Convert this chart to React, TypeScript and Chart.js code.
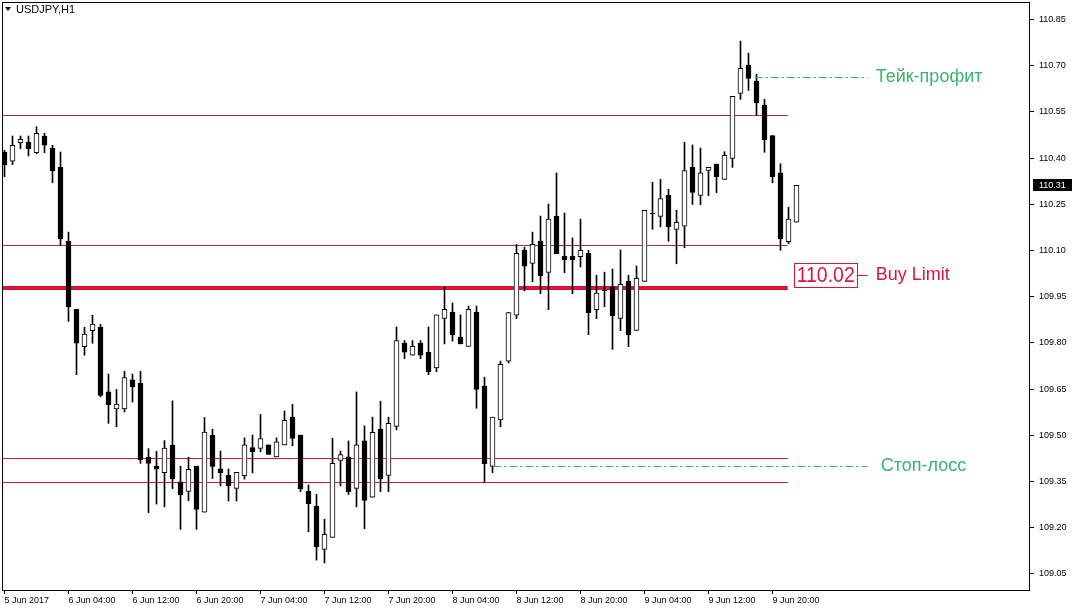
import React, { useEffect, useRef } from "react";
import { Chart, registerables } from "chart.js";

Chart.register(...registerables);

// ---- data (USDJPY, H1, from 5 Jun 2017 20:00) ----
const opens = [
  110.420, 110.390, 110.450, 110.452, 110.418, 110.472, 110.433, 110.370, 110.130, 109.909,
  109.788, 109.840, 109.851, 109.641, 109.586, 109.586, 109.680, 109.669, 109.429, 109.400,
  109.379, 109.468, 109.348, 109.318, 109.400, 109.251, 109.501, 109.391, 109.371, 109.328,
  109.369, 109.460, 109.458, 109.469, 109.430, 109.469, 109.559, 109.501, 109.319, 109.270,
  109.130, 109.169, 109.419, 109.430, 109.328, 109.482, 109.299, 109.520, 109.370, 109.529,
  109.800, 109.760, 109.800, 109.770, 109.719, 109.880, 109.900, 109.819, 109.789, 109.900,
  109.660, 109.399, 109.550, 109.741, 109.890, 110.101, 110.058, 110.131, 110.029, 110.212,
  110.082, 110.082, 110.080, 110.091, 109.908, 109.972, 109.982, 109.880, 110.000, 109.841,
  110.000, 110.222, 110.211, 110.279, 110.169, 110.179, 110.370, 110.279, 110.360, 110.381,
  110.331, 110.399, 110.610, 110.702, 110.650, 110.572, 110.473, 110.352, 110.129, 110.192,
];
const highs = [
  110.426, 110.472, 110.472, 110.472, 110.502, 110.481, 110.442, 110.420, 110.160, 109.909,
  109.851, 109.890, 109.861, 109.699, 109.649, 109.708, 109.699, 109.708, 109.457, 109.448,
  109.483, 109.612, 109.400, 109.429, 109.400, 109.558, 109.520, 109.449, 109.391, 109.380,
  109.492, 109.501, 109.568, 109.469, 109.492, 109.579, 109.601, 109.501, 109.339, 109.309,
  109.228, 109.491, 109.449, 109.482, 109.641, 109.531, 109.559, 109.611, 109.559, 109.852,
  109.808, 109.808, 109.808, 109.852, 109.891, 109.982, 109.930, 109.891, 109.920, 109.920,
  109.689, 109.559, 109.741, 109.899, 110.120, 110.111, 110.160, 110.212, 110.251, 110.352,
  110.222, 110.141, 110.202, 110.101, 110.020, 110.030, 110.040, 110.102, 110.020, 110.050,
  110.231, 110.322, 110.331, 110.299, 110.231, 110.452, 110.443, 110.433, 110.370, 110.381,
  110.421, 110.601, 110.780, 110.741, 110.673, 110.591, 110.473, 110.382, 110.241, 110.312,
];
const lows = [
  110.340, 110.379, 110.431, 110.407, 110.415, 110.418, 110.320, 110.117, 109.870, 109.697,
  109.760, 109.799, 109.625, 109.539, 109.528, 109.576, 109.608, 109.409, 109.249, 109.277,
  109.268, 109.327, 109.195, 109.288, 109.195, 109.251, 109.360, 109.336, 109.287, 109.287,
  109.358, 109.378, 109.447, 109.438, 109.430, 109.469, 109.466, 109.317, 109.187, 109.095,
  109.086, 109.169, 109.336, 109.308, 109.268, 109.197, 109.299, 109.317, 109.317, 109.518,
  109.749, 109.760, 109.749, 109.697, 109.707, 109.797, 109.806, 109.797, 109.789, 109.588,
  109.347, 109.379, 109.528, 109.735, 109.879, 109.969, 109.999, 109.960, 109.908, 110.090,
  110.028, 109.960, 110.047, 109.827, 109.879, 109.918, 109.779, 109.840, 109.788, 109.841,
  110.000, 110.169, 110.177, 110.130, 110.057, 110.109, 110.250, 110.249, 110.278, 110.288,
  110.331, 110.370, 110.591, 110.620, 110.539, 110.419, 110.320, 110.101, 110.122, 110.192,
];
const closes = [
  110.379, 110.442, 110.461, 110.431, 110.481, 110.442, 110.359, 110.138, 109.918, 109.799,
  109.829, 109.861, 109.630, 109.599, 109.602, 109.688, 109.658, 109.420, 109.409, 109.390,
  109.459, 109.359, 109.307, 109.390, 109.260, 109.511, 109.399, 109.379, 109.336, 109.380,
  109.469, 109.447, 109.490, 109.438, 109.479, 109.549, 109.490, 109.326, 109.278, 109.138,
  109.179, 109.409, 109.438, 109.317, 109.469, 109.289, 109.510, 109.359, 109.539, 109.808,
  109.770, 109.789, 109.760, 109.707, 109.891, 109.909, 109.827, 109.797, 109.909, 109.649,
  109.408, 109.559, 109.731, 109.899, 110.091, 110.049, 110.120, 110.018, 110.202, 110.090,
  110.070, 110.070, 110.101, 109.898, 109.962, 109.970, 109.888, 109.990, 109.827, 110.010,
  110.231, 110.220, 110.269, 110.177, 110.192, 110.360, 110.289, 110.352, 110.370, 110.340,
  110.409, 110.601, 110.692, 110.659, 110.580, 110.460, 110.340, 110.138, 110.202, 110.312,
];

const xTickIndices = [0, 8, 16, 24, 32, 40, 48, 56, 64, 72, 80, 88, 96];
const xTickLabels = [
  "5 Jun 2017", "6 Jun 04:00", "6 Jun 12:00", "6 Jun 20:00", "7 Jun 04:00", "7 Jun 12:00",
  "7 Jun 20:00", "8 Jun 04:00", "8 Jun 12:00", "8 Jun 20:00", "9 Jun 04:00", "9 Jun 12:00", "9 Jun 20:00",
];
const yTicks = [110.85, 110.7, 110.55, 110.4, 110.25, 110.1, 109.95, 109.8, 109.65, 109.5, 109.35, 109.2, 109.05];

const darkLevels = [110.54, 110.118];
const redLevels = [109.426, 109.348];
const buyLimitLine = 109.98;
const buyLimitPrice = 110.02;
const takeProfit = 110.662;
const stopLoss = 109.402;

const symbolTitle = "USDJPY,H1";
const buyLimitText = "Buy Limit";
const takeProfitText = "Тейк-профит";
const stopLossText = "Стоп-лосс";

// axis ranges / anchors (in data units)
const xMin = -0.3125;
const xMax = xMin + 128.5;
const yMin = 108.998;
const yMax = 110.907;
const levelsEnd = 97.9;
const tpStart = 93.8;
const slStart = 61.1;
const annoEnd = 107.9;

const CRIMSON = "#DC143C";
const DARKRED = "#9A3040";
const GREEN = "#3CB371";

const overlay = {
  id: "overlay",
  beforeDatasetsDraw(chart: any) {
    const { ctx, chartArea: a, scales } = chart;
    const x = scales.x, y = scales.y;
    ctx.save();
    ctx.beginPath();
    ctx.rect(a.left, a.top, a.right - a.left, a.bottom - a.top);
    ctx.clip();
    const xEnd = x.getPixelForValue(levelsEnd);
    const hline = (v: number, color: string, w: number) => {
      const raw = y.getPixelForValue(v);
      const py = w % 2 === 1 ? Math.round(raw) + 0.5 : Math.round(raw);
      ctx.strokeStyle = color;
      ctx.lineWidth = w;
      ctx.beginPath();
      ctx.moveTo(a.left, py);
      ctx.lineTo(xEnd, py);
      ctx.stroke();
    };
    darkLevels.forEach((v) => hline(v, DARKRED, 1));
    redLevels.forEach((v) => hline(v, CRIMSON, 1));
    hline(buyLimitLine, CRIMSON, 4);
    ctx.restore();
  },
  afterDraw(chart: any) {
    const { ctx, chartArea: a, scales } = chart;
    const x = scales.x, y = scales.y;
    ctx.save();
    // frame
    ctx.strokeStyle = "#000";
    ctx.lineWidth = 1;
    ctx.strokeRect(a.left + 0.5, a.top + 0.5, a.right - a.left - 1, a.bottom - a.top);

    // title
    ctx.fillStyle = "#000";
    ctx.beginPath();
    ctx.moveTo(5, 7);
    ctx.lineTo(11, 7);
    ctx.lineTo(8, 11);
    ctx.closePath();
    ctx.fill();
    ctx.font = "11px 'Liberation Sans', Arial, sans-serif";
    ctx.textBaseline = "middle";
    ctx.textAlign = "left";
    ctx.fillText(symbolTitle, 16, 9.5);

    // dash-dot TP / SL lines
    const dash = (from: number, v: number) => {
      const py = Math.round(y.getPixelForValue(v)) + 0.5;
      ctx.strokeStyle = GREEN;
      ctx.lineWidth = 1;
      ctx.setLineDash([8, 3, 2, 3]);
      ctx.beginPath();
      ctx.moveTo(x.getPixelForValue(from), py);
      ctx.lineTo(x.getPixelForValue(annoEnd), py);
      ctx.stroke();
      ctx.setLineDash([]);
    };
    dash(tpStart, takeProfit);
    dash(slStart, stopLoss);

    const endX = x.getPixelForValue(annoEnd);
    ctx.font = "18px 'Liberation Sans', Arial, sans-serif";
    ctx.fillStyle = GREEN;
    ctx.textBaseline = "middle";
    ctx.fillText(takeProfitText, endX + 8, y.getPixelForValue(takeProfit));
    ctx.fillText(stopLossText, endX + 13, y.getPixelForValue(stopLoss));

    // buy limit label
    const by = y.getPixelForValue(buyLimitPrice);
    ctx.fillStyle = CRIMSON;
    ctx.fillText(buyLimitText, endX + 8, by);
    ctx.strokeStyle = CRIMSON;
    ctx.beginPath();
    ctx.moveTo(endX - 11, Math.round(by) + 0.5);
    ctx.lineTo(endX, Math.round(by) + 0.5);
    ctx.stroke();
    ctx.font = "22px 'Liberation Sans', Arial, sans-serif";
    const t = buyLimitPrice.toFixed(2);
    const tw = ctx.measureText(t).width;
    const targetW = 58;
    const boxR = endX - 11;
    const boxL = boxR - targetW - 5;
    ctx.strokeRect(Math.round(boxL) + 0.5, Math.round(by - 12) + 0.5, Math.round(boxR - boxL), 24);
    ctx.save();
    ctx.translate(boxL + 3, by + 1);
    ctx.scale(targetW / tw, 1);
    ctx.fillText(t, 0, 0);
    ctx.restore();

    // current price marker
    const last = closes[closes.length - 1];
    const cy = Math.round(y.getPixelForValue(last));
    ctx.fillStyle = "#000";
    ctx.fillRect(a.right + 3, cy - 6, 39, 12);
    ctx.fillStyle = "#fff";
    ctx.font = "9px 'Liberation Sans', Arial, sans-serif";
    ctx.textAlign = "left";
    ctx.fillText(last.toFixed(2), a.right + 9, cy + 0.5);
    ctx.restore();
  },
};

export default function App() {
  const ref = useRef<HTMLCanvasElement>(null);
  useEffect(() => {
    if (!ref.current) return;
    const bodyColors = opens.map((o, i) => (closes[i] >= o ? "#ffffff" : "#000000"));
    const chart = new Chart(ref.current, {
      type: "bar",
      data: {
        datasets: [
          {
            label: "body",
            data: opens.map((o, i) => ({ x: i, y: [o, closes[i]] })) as any,
            backgroundColor: bodyColors,
            borderColor: "#000",
            borderWidth: 1,
            borderSkipped: false,
            barThickness: 5,
            grouped: false,
          } as any,
          {
            label: "wick",
            data: lows.map((l, i) => ({ x: i, y: [l, highs[i]] })) as any,
            backgroundColor: "#000",
            borderWidth: 0,
            barThickness: 1,
            grouped: false,
          } as any,
        ],
      },
      options: {
        responsive: false,
        animation: false,
        devicePixelRatio: 1,
        layout: { padding: { left: 2, top: 2, right: 0, bottom: 0 } },
        plugins: { legend: { display: false }, tooltip: { enabled: false }, title: { display: false } },
        scales: {
          x: {
            type: "linear",
            offset: false,
            min: xMin,
            max: xMax,
            afterBuildTicks: (s: any) => {
              s.ticks = xTickIndices.map((v) => ({ value: v }));
            },
            afterFit: (s: any) => {
              s.height = 21;
              s.paddingLeft = 0;
              s.paddingRight = 0;
              s.paddingTop = 0;
              s.paddingBottom = 0;
            },
            grid: { offset: false, drawOnChartArea: false, drawTicks: true, tickLength: 4, color: "#000" },
            border: { display: false },
            ticks: {
              autoSkip: false,
              maxRotation: 0,
              minRotation: 0,
              align: "start",
              padding: 1,
              color: "#000",
              font: { family: "'Liberation Sans', Arial, sans-serif", size: 9 },
              callback: (v: any) => {
                const k = xTickIndices.indexOf(Number(v));
                return k >= 0 ? xTickLabels[k] : "";
              },
            },
          },
          y: {
            position: "right",
            min: yMin,
            max: yMax,
            afterBuildTicks: (s: any) => {
              s.ticks = yTicks.map((v) => ({ value: v }));
            },
            afterFit: (s: any) => {
              s.width = 44;
              s.paddingLeft = 0;
              s.paddingRight = 0;
              s.paddingTop = 0;
              s.paddingBottom = 0;
            },
            grid: { drawOnChartArea: false, drawTicks: true, tickLength: 4, color: "#000" },
            border: { display: false },
            ticks: {
              padding: 5,
              color: "#000",
              font: { family: "'Liberation Sans', Arial, sans-serif", size: 9 },
              callback: (v: any) => Number(v).toFixed(2),
            },
          },
        },
      } as any,
      plugins: [overlay],
    });
    return () => chart.destroy();
  }, []);
  return (
    <div style={{ position: "absolute", left: 0, top: 0, width: 1074, height: 611, background: "#fff" }}>
      <canvas ref={ref} width={1074} height={611} style={{ display: "block" }} />
    </div>
  );
}
